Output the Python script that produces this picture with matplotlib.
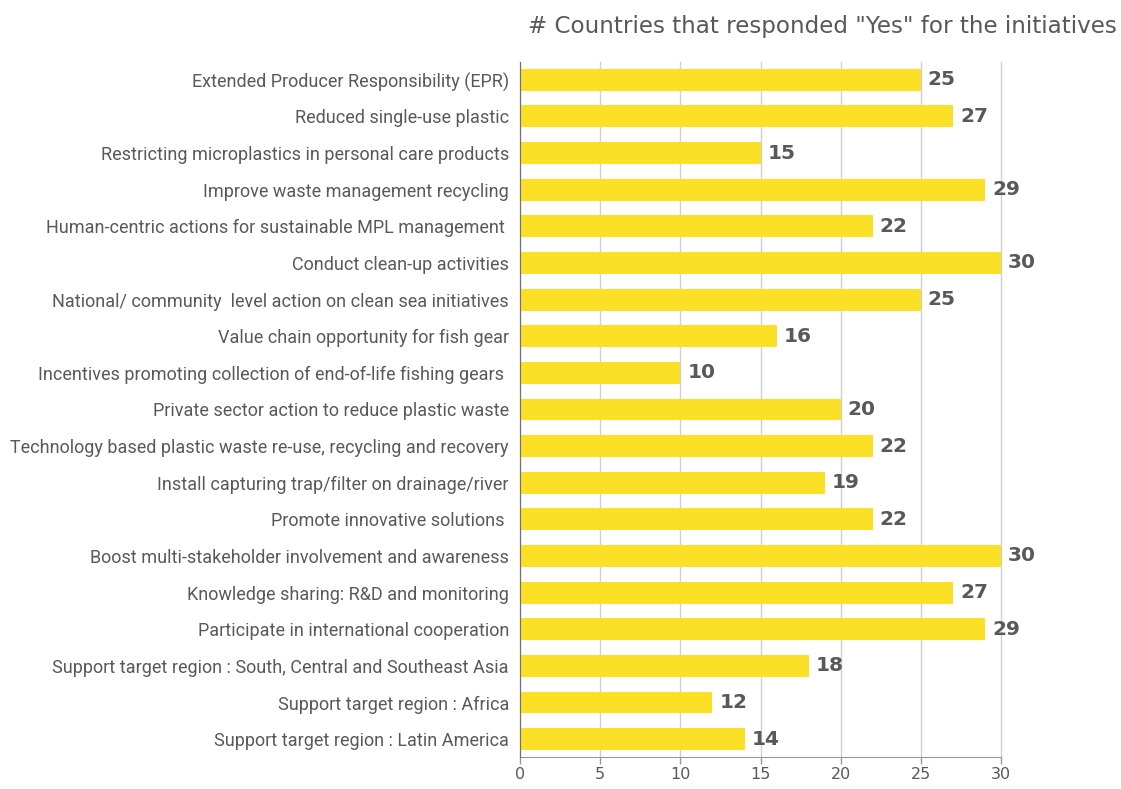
import matplotlib
matplotlib.use("Agg")
import matplotlib.pyplot as plt

categories = [
    "Extended Producer Responsibility (EPR)",
    "Reduced single-use plastic",
    "Restricting microplastics in personal care products",
    "Improve waste management recycling",
    "Human-centric actions for sustainable MPL management ",
    "Conduct clean-up activities",
    "National/ community  level action on clean sea initiatives",
    "Value chain opportunity for fish gear",
    "Incentives promoting collection of end-of-life fishing gears ",
    "Private sector action to reduce plastic waste",
    "Technology based plastic waste re-use, recycling and recovery",
    "Install capturing trap/filter on drainage/river",
    "Promote innovative solutions ",
    "Boost multi-stakeholder involvement and awareness",
    "Knowledge sharing: R&D and monitoring",
    "Participate in international cooperation",
    "Support target region : South, Central and Southeast Asia",
    "Support target region : Africa",
    "Support target region : Latin America",
]
values = [25, 27, 15, 29, 22, 30, 25, 16, 10, 20, 22, 19, 22, 30, 27, 29, 18, 12, 14]
x_ticks = [0, 5, 10, 15, 20, 25, 30]
title = '# Countries that responded "Yes" for the initiatives'

BAR = "#FCE026"
TEXT = "#595959"

fig = plt.figure(figsize=(11.21, 7.89), dpi=100)
ax = fig.add_axes([0.4639, 0.040, 0.4291, 0.882])

y = list(range(len(categories)))
ax.barh(y, values, height=0.6, color=BAR, zorder=2)
for yi, v in zip(y, values):
    ax.annotate(str(v), (v, yi), xytext=(5, 0), textcoords="offset points",
                va="center", ha="left", fontsize=14.5, fontweight="bold",
                color=TEXT, family="DejaVu Sans")

ax.set_xlim(0, 30)
ax.set_ylim(len(categories) - 0.5, -0.5)
ax.set_xticks(x_ticks)
ax.set_xticklabels([str(t) for t in x_ticks], fontsize=11.5, color=TEXT, family="DejaVu Sans")
ax.set_yticks(y)
ax.set_yticklabels(categories, fontsize=13, color=TEXT, family="Roboto")
ax.tick_params(axis="y", length=0, pad=8)
ax.tick_params(axis="x", length=5, color="#999999", width=1, pad=2)
ax.grid(axis="x", color="#D0D0D0", linewidth=1, zorder=0)
for gl in ax.get_xgridlines():
    gl.set_clip_on(False)
ax.set_axisbelow(True)
for s in ["top", "right"]:
    ax.spines[s].set_visible(False)
ax.spines["left"].set_color("#707070")
ax.spines["bottom"].set_color("#999999")
ax.spines["left"].set_zorder(3)

fig.text(0.9965, 0.966, title, ha="right", va="center", fontsize=16.6,
         color=TEXT, family="DejaVu Sans", fontweight="medium")

fig.savefig("out.png", dpi=100)
